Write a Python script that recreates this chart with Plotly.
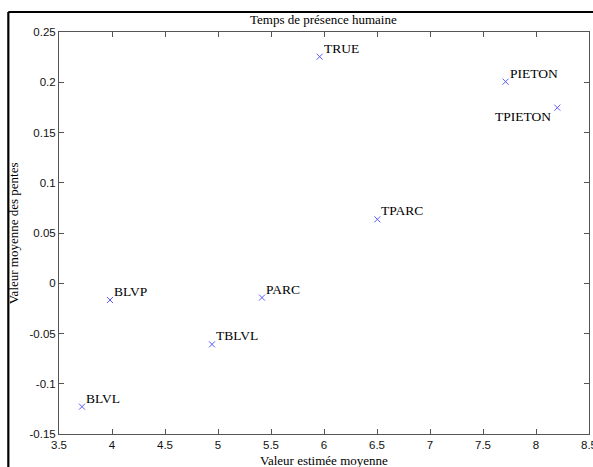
import plotly.graph_objects as go

labels = ["BLVL", "BLVP", "TBLVL", "PARC", "TPARC", "TRUE", "PIETON", "TPIETON"]
x_vals = [3.717, 3.981, 4.943, 5.415, 6.503, 5.959, 7.713, 8.201]
y_vals = [-0.1228, -0.0167, -0.0608, -0.0143, 0.0636, 0.2254, 0.2006, 0.1747]
x_ticks = [3.5, 4, 4.5, 5, 5.5, 6, 6.5, 7, 7.5, 8, 8.5]
y_ticks = [-0.15, -0.1, -0.05, 0, 0.05, 0.1, 0.15, 0.2, 0.25]

serif = "Liberation Serif, Times New Roman, serif"
sans = "Liberation Sans, Arial, sans-serif"

fig = go.Figure()
fig.add_trace(go.Scatter(
    x=x_vals, y=y_vals, mode="markers",
    marker=dict(symbol="x-thin", size=6, line=dict(width=1, color="#5a5aff")),
    showlegend=False, hoverinfo="skip"))

for lab, xv, yv in zip(labels, x_vals, y_vals):
    if lab == "TPIETON":
        fig.add_annotation(x=xv, y=yv, text=lab, showarrow=False,
                           xanchor="right", yanchor="middle", xshift=-4, yshift=-9,
                           font=dict(family=serif, size=13.5, color="black"))
    else:
        fig.add_annotation(x=xv, y=yv, text=lab, showarrow=False,
                           xanchor="left", yanchor="middle", xshift=2, yshift=8.5,
                           font=dict(family=serif, size=13.5, color="black"))

# plot area in pixels
L, R, T, B = 58.7, 589.0, 32.0, 434.0
W, H = 593, 467
pw, ph = R - L, B - T

def px_x(p):
    return (p - L) / pw

def px_y(p):
    return (B - p) / ph

# outer frame lines (thick black)
fig.add_shape(type="line", xref="paper", yref="paper",
              x0=px_x(8), x1=px_x(W + 5), y0=px_y(12), y1=px_y(12),
              line=dict(color="black", width=2.2))
fig.add_shape(type="line", xref="paper", yref="paper",
              x0=px_x(8), x1=px_x(8), y0=px_y(12), y1=px_y(H + 5),
              line=dict(color="black", width=2.2))

axis_common = dict(showgrid=False, zeroline=False, showline=True, linecolor="#555555",
                   linewidth=1, mirror="ticks", ticks="inside", ticklen=5,
                   tickcolor="#555555", tickwidth=1, ticklabeloverflow="allow",
                   automargin=False,
                   tickfont=dict(family=sans, size=11.5, color="#111111"))

fig.update_xaxes(range=[3.5, 8.5], tickvals=x_ticks,
                 ticktext=[f"{v:g}" for v in x_ticks], **axis_common)
fig.update_yaxes(range=[-0.15, 0.25], tickvals=y_ticks,
                 ticktext=[f"{v:g}" for v in y_ticks], **axis_common)

# axis titles and chart title as annotations for exact placement
fig.add_annotation(xref="paper", yref="paper", x=px_x(323.8), y=px_y(19),
                   text="Temps de présence humaine", showarrow=False,
                   xanchor="center", yanchor="middle",
                   font=dict(family=serif, size=13, color="black"))
fig.add_annotation(xref="paper", yref="paper", x=px_x(323.8), y=px_y(460),
                   text="Valeur estimée moyenne", showarrow=False,
                   xanchor="center", yanchor="middle",
                   font=dict(family=serif, size=13, color="black"))
fig.add_annotation(xref="paper", yref="paper", x=px_x(13), y=px_y(233),
                   text="Valeur moyenne des pentes", showarrow=False, textangle=-90,
                   xanchor="center", yanchor="middle",
                   font=dict(family=serif, size=13, color="black"))

fig.update_layout(width=W, height=H, autosize=False,
                  margin=dict(l=L, r=W - R, t=T, b=H - B),
                  plot_bgcolor="white", paper_bgcolor="white")

fig.write_html("out.html", config={"displayModeBar": False},
               post_script="document.body.style.margin='0';document.body.style.overflow='hidden';")
